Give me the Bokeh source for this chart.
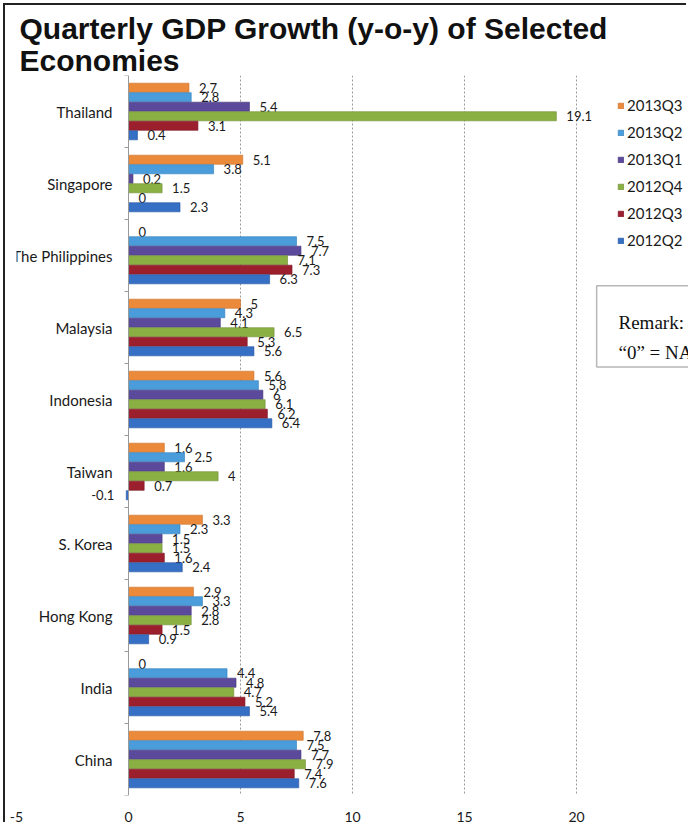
import numpy as np
from bokeh.plotting import figure
from bokeh.models import (ColumnDataSource, Range1d, FixedTicker, Legend, LegendItem,
                          BoxAnnotation, Label, CDSView, BooleanFilter)
from bokeh.transform import dodge
from bokeh.core.properties import value
from bokeh.embed import file_html
from bokeh.resources import INLINE

# ---------------- data ----------------
countries = ["Thailand", "Singapore", "The Philippines", "Malaysia", "Indonesia",
             "Taiwan", "S. Korea", "Hong Kong", "India", "China"]
series = ["2013Q3", "2013Q2", "2013Q1", "2012Q4", "2012Q3", "2012Q2"]
q2013_3 = [2.7, 5.1, 0, 5, 5.6, 1.6, 3.3, 2.9, 0, 7.8]
q2013_2 = [2.8, 3.8, 7.5, 4.3, 5.8, 2.5, 2.3, 3.3, 4.4, 7.5]
q2013_1 = [5.4, 0.2, 7.7, 4.1, 6, 1.6, 1.5, 2.8, 4.8, 7.7]
q2012_4 = [19.1, 1.5, 7.1, 6.5, 6.1, 4, 1.5, 2.8, 4.7, 7.9]
q2012_3 = [3.1, 0, 7.3, 5.3, 6.2, 0.7, 1.6, 1.5, 5.2, 7.4]
q2012_2 = [0.4, 2.3, 6.3, 5.6, 6.4, -0.1, 2.4, 0.9, 5.4, 7.6]
x_ticks = [-5, 0, 5, 10, 15, 20]
grid_ticks = [5, 10, 15, 20]

values_by_series = [q2013_3, q2013_2, q2013_1, q2012_4, q2012_3, q2012_2]
fill_colors = ["#EC8A3C", "#4A9CDA", "#5B4A9B", "#8AB044", "#9C1F2E", "#3670C4"]
line_colors = ["#C86F28", "#2F7DBB", "#3F3279", "#6C8C2F", "#78131F", "#2353A0"]

data = {"country": countries, "pos": list(np.arange(len(countries)) + 0.5)}
for s, vals in zip(series, values_by_series):
    data[s] = vals
    data[s + "_lbl"] = [f"{v:g}" for v in vals]
src = ColumnDataSource(data)

# ---------------- figure ----------------
p = figure(frame_width=672, frame_height=720,
           x_range=Range1d(-5, 25), y_range=Range1d(len(countries), 0),
           output_backend="svg", toolbar_location=None,
           min_border_left=11, min_border_right=0, min_border_top=70, min_border_bottom=29)
p.styles = {"margin-left": "5px", "margin-top": "5px", "box-shadow": "-2px -2px 0 0 #222"}
p.outline_line_color = None
p.background_fill_color = "white"
p.border_fill_color = "white"

p.title.text = "Quarterly GDP Growth (y-o-y) of Selected\nEconomies"
p.title.text_font = "Liberation Sans"
p.title.text_font_style = "bold"
p.title.text_font_size = "30px"
p.title.text_color = "#111111"
p.title.text_line_height = 0.97
p.title.align = "left"
p.title.vertical_align = "top"
p.title.offset = 3
p.title.standoff = -6

# x axis
p.xaxis.ticker = FixedTicker(ticks=x_ticks)
p.xaxis.major_label_overrides = {t: str(t) for t in x_ticks}
p.xaxis.axis_line_color = None
p.xaxis.major_tick_line_color = None
p.xaxis.minor_tick_line_color = None
p.xaxis.major_label_text_font = "Lato"
p.xaxis.major_label_text_font_size = "14px"
p.xaxis.major_label_text_color = "#1a1a1a"
p.xaxis.major_label_standoff = 10

# y axis line drawn at x = 0, with tick marks between the groups
y_bounds = list(range(len(countries) + 1))
p.yaxis.fixed_location = 0
p.yaxis.ticker = FixedTicker(ticks=y_bounds)
p.yaxis.major_label_overrides = {t: "" for t in y_bounds}
p.yaxis.major_tick_out = 4
p.yaxis.major_tick_in = 0
p.yaxis.major_label_standoff = 0
p.yaxis.minor_tick_line_color = None
p.yaxis.axis_line_color = "#9a9a9a"
p.yaxis.major_tick_line_color = "#9a9a9a"

p.xgrid.ticker = FixedTicker(ticks=grid_ticks)
p.xgrid.grid_line_color = "#9a9a9a"
p.xgrid.grid_line_dash = "2 2"
p.ygrid.visible = False

step = 0.132
renderers = []
for k, (s, vals) in enumerate(zip(series, values_by_series)):
    off = (k - 2.5) * step
    ydodge = dodge("pos", off, range=p.y_range)
    r = p.hbar(y=ydodge, left=0, right=s, height=step * 0.96, source=src,
               fill_color=fill_colors[k], line_color=line_colors[k], line_width=0.6)
    renderers.append(r)
    pos_mask = [v >= 0 for v in vals]
    neg_mask = [v < 0 for v in vals]
    p.text(x=s, y=ydodge, text=s + "_lbl", source=src,
           view=CDSView(filter=BooleanFilter(pos_mask)),
           x_offset=10, text_align="left", text_baseline="middle",
           text_font=value("Lato"), text_font_size="13px", text_color="#1a1a1a")
    if any(neg_mask):
        p.text(x=s, y=ydodge, text=s + "_lbl", source=src,
               view=CDSView(filter=BooleanFilter(neg_mask)),
               x_offset=-12, text_align="right", text_baseline="middle",
               text_font=value("Lato"), text_font_size="13px", text_color="#1a1a1a")

# category labels next to the axis at 0
p.text(x=0, y="pos", text="country", source=src, x_offset=-16,
       text_align="right", text_baseline="middle",
       text_font=value("Lato"), text_font_size="15px", text_color="#1a1a1a")

# legend: location = (left, bottom) measured from the frame's bottom-left corner
legend = Legend(items=[LegendItem(label=s, renderers=[r]) for s, r in zip(series, renderers)],
                location=(601, 545), orientation="vertical", padding=0, margin=0,
                spacing=7, glyph_width=7, glyph_height=7, label_height=20,
                label_standoff=3, label_text_font="Lato", label_text_font_size="15px",
                label_text_color="#1a1a1a", border_line_color=None,
                background_fill_alpha=0)
p.add_layout(legend)

p.add_layout(BoxAnnotation(left=20.9, right=27, top=2.92, bottom=4.05,
                           fill_color="white", fill_alpha=1,
                           line_color="#111111", line_width=1.5))
p.add_layout(Label(x=21.875, y=3.425, text="Remark:", text_baseline="alphabetic",
                   text_font="Liberation Serif", text_font_size="19px", text_color="#111111"))
p.add_layout(Label(x=21.875, y=3.845, text="\u201c0\u201d = NA", text_baseline="alphabetic",
                   text_font="Liberation Serif", text_font_size="19px", text_color="#111111"))

open("out.html", "w").write(file_html(p, INLINE))
